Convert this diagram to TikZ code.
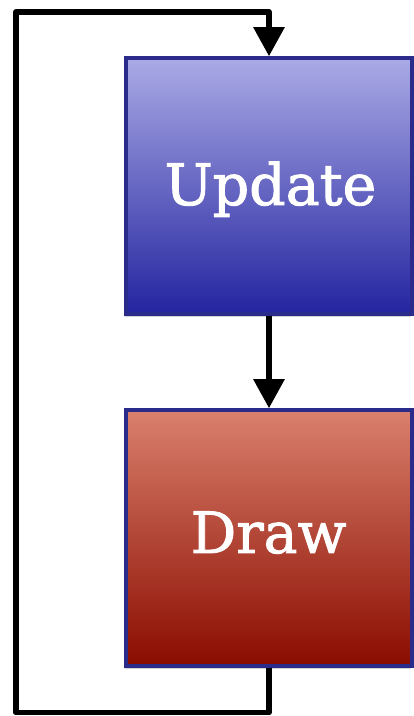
\documentclass[tikz,border=0pt]{standalone}
\usepackage{fontspec}
\setmainfont{DejaVu Serif}
\newfontfamily\lblfont[FakeBold=1.6]{DejaVu Serif}
\usetikzlibrary{arrows.meta,shadows}
\definecolor{bordblue}{HTML}{2B2B8C}
\definecolor{updtop}{HTML}{AAAAE6}
\definecolor{updbot}{HTML}{2424A0}
\definecolor{drwtop}{HTML}{DA806C}
\definecolor{drwbot}{HTML}{8A0C00}
\tikzset{
  box/.style={draw=bordblue, line width=3.5pt, minimum width=286pt, minimum height=256pt,
    inner sep=0pt, drop shadow={shadow xshift=-1pt, shadow yshift=-3pt, opacity=0.35}},
  flow/.style={line width=5.8pt, draw=black},
  arr/.style={-{Triangle[length=29pt,width=30pt]}},
  lbl/.style={text=white, anchor=base, inner sep=0pt, font=\lblfont\fontsize{57}{66}\selectfont},
}
\begin{document}
\begin{tikzpicture}[x=1pt,y=1pt]
\useasboundingbox (0,0) rectangle (414,716);
\fill[white] (0,0) rectangle (414,716);
\node[box, top color=updtop, bottom color=updbot] (upd) at (269,530) {};
\node[box, top color=drwtop, bottom color=drwbot] (drw) at (269,178) {};
\node[lbl] (updl) at (270.5,511) {Update};
\node[lbl] (drwl) at (268.5,163) {Draw};
\coordinate (bl) at (16,3.5);
\coordinate (tl) at (16,704);
\draw[flow, arr] (upd.south) -- (drw.north);
\draw[flow, arr, line join=round] (drw.south) |- (bl) -- (tl) -| (upd.north);
\end{tikzpicture}
\end{document}
